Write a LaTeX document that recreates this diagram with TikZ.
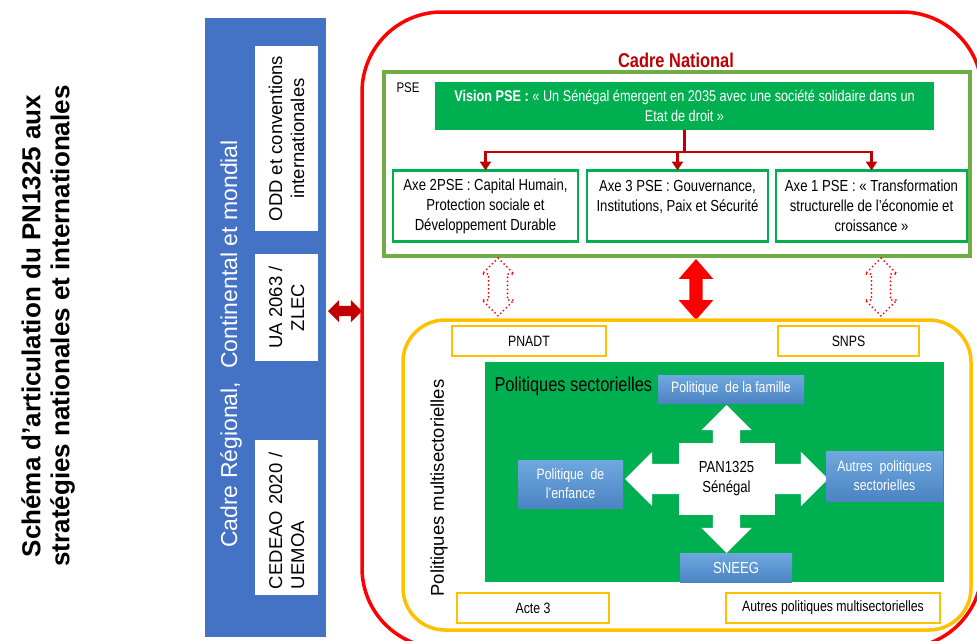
\documentclass[tikz,border=0pt]{standalone}
\usepackage{fontspec}
\setmainfont{Liberation Sans}
\newfontfamily\nar{Liberation Sans}[FakeStretch=0.82]
\usetikzlibrary{shapes.arrows,arrows.meta}
\definecolor{bluebg}{HTML}{4472C4}
\definecolor{darkred}{HTML}{C00000}
\definecolor{greenL}{HTML}{70AD47}
\definecolor{greenD}{HTML}{00B050}
\definecolor{orangeC}{HTML}{FFC000}
\definecolor{blueTop}{HTML}{6FA8DE}
\definecolor{blueBot}{HTML}{4C84C4}
\tikzset{
  whitebox/.style={fill=white, inner sep=0pt, outer sep=0pt, align=center, rotate=90, minimum height=63pt,
    font=\fontsize{18.5}{22}\selectfont},
  axebox/.style={draw=greenD, line width=2.5pt, fill=white, inner sep=0pt, outer sep=0pt, align=center,
    minimum width=#1, minimum height=71pt, font=\nar\fontsize{16}{20}\selectfont},
  obox/.style={draw=orangeC, line width=2pt, fill=white, inner sep=0pt, outer sep=0pt, align=center,
    minimum height=30pt, minimum width=#1, font=\nar\fontsize{15}{17}\selectfont},
  bbox/.style={top color=blueTop, bottom color=blueBot, draw=none, text=white, inner sep=0pt, outer sep=0pt,
    align=center, font=\nar\fontsize{15}{19}\selectfont},
  rarr/.style={draw=darkred, line width=2.5pt, -{Triangle[length=9pt,width=11pt]}},
  dotarrow/.style={double arrow, rotate=90, draw=red, line width=2pt, dash pattern=on 0pt off 4pt, line cap=round,
    minimum height=58pt, inner xsep=0pt, inner ysep=8.5pt, double arrow head extend=6.5pt},
  whitearrow/.style={double arrow, fill=white, inner xsep=0pt, outer sep=0pt, double arrow tip angle=90},
}
\begin{document}
\begin{tikzpicture}[x=1pt,y=-1pt]
\useasboundingbox (0,0) rectangle (977,640);
\clip (0,0) rectangle (977,640);
\fill[white] (0,0) rectangle (977,640);

% title
\node[rotate=90, align=center, font=\bfseries\fontsize{26}{29}\selectfont] (title) at (48,326)
  {Schéma d’articulation du PN1325 aux\\stratégies nationales et internationales};

% regional frame
\node[fill=bluebg, minimum width=121pt, minimum height=619pt, inner sep=0pt] (reg) at (265.5,327.5) {};
\node[rotate=90, text=white, font=\fontsize{23}{28}\selectfont] (regtxt) at (231,344)
  {Cadre Régional,\ \ Continental et mondial};
\node[whitebox, minimum width=185pt] (odd) at (286.5,138.5) {ODD et conventions\\internationales};
\node[whitebox, minimum width=107pt] (ua) at (286.5,307.5) {UA 2063 /\\ZLEC};
\node[whitebox, minimum width=155pt, align=left, text width=143pt, inner xsep=6pt] (cedeao) at (286.5,517.5)
  {CEDEAO 2020 /\\UEMOA};

% link arrow
\node[double arrow, fill=darkred, minimum height=34pt, inner xsep=0pt, inner ysep=5pt,
  double arrow head extend=6pt] (link) at (345,311) {};

% national frame
\draw[red, line width=3.5pt, rounded corners=80pt] (362,12) rectangle (982,648);
\node[text=darkred, font=\nar\bfseries\fontsize{20}{24}\selectfont] (cn) at (676,60) {Cadre National};

% PSE frame
\draw[greenL, line width=3.5pt] (384,72) rectangle (970,256);
\node[anchor=west, font=\nar\fontsize{14}{17}\selectfont] (pse) at (393,88) {PSE};
\node[fill=greenD, text=white, minimum width=499pt, minimum height=48pt, inner sep=0pt, outer sep=0pt,
  align=center, font=\nar\fontsize{15.5}{20}\selectfont] (vision) at (684.5,106)
  {\textbf{Vision PSE :} «~Un Sénégal émergent en 2035 avec une société solidaire dans un\\Etat de droit~»};

\node[axebox=185pt] (axe2) at (485.5,206) {Axe 2PSE : Capital Humain,\\Protection sociale et\\Développement Durable};
\node[axebox=181pt] (axe3) at (677.5,206) {Axe 3 PSE : Gouvernance,\\Institutions, Paix et Sécurité\\\mbox{}};
\node[axebox=191pt] (axe1) at (871.5,206) {Axe 1 PSE : «~Transformation\\structurelle de l’économie et\\croissance~»};

\coordinate (j) at (684.5,152);
\draw[draw=darkred, line width=2.5pt] (vision.south) -- (j);
\draw[rarr] (j) -| (axe2.north);
\draw[rarr] (j) -| (axe3.north);
\draw[rarr] (j) -| (axe1.north);

% arrows between PSE and multisectoral
\node[dotarrow] (d1) at (498,287) {};
\node[dotarrow] (d2) at (881,287) {};
\node[double arrow, rotate=90, fill=red, minimum height=61pt, inner xsep=0pt, inner ysep=6.5pt,
  double arrow head extend=10.5pt, double arrow tip angle=82] (nat) at (696,289.5) {};

% multisectoral frame
\draw[orangeC, line width=3.5pt, rounded corners=42pt] (403,320) rectangle (971,630);
\node[obox=154pt] (pnadt) at (529,341) {PNADT};
\node[obox=141pt] (snps) at (848.5,341) {SNPS};
\node[rotate=90, font=\fontsize{18.5}{22}\selectfont] (multi) at (439,488) {Politiques multisectorielles};
\node[obox=152pt] (acte) at (533,608) {Acte 3};
\node[obox=214pt] (autm) at (833,608) {Autres politiques multisectorielles};

% sectoral
\node[fill=greenD, minimum width=459pt, minimum height=220pt, inner sep=0pt] (sect) at (714.5,472) {};
\node[anchor=west, font=\nar\fontsize{20}{24}\selectfont] (secttxt) at (491,386) {Politiques sectorielles};

\node[whitearrow, minimum height=203pt, inner ysep=15pt, double arrow head extend=12pt] (qh) at (726.5,479) {};
\node[whitearrow, rotate=90, minimum height=148pt, inner ysep=13.5pt, double arrow head extend=11.5pt] (qv) at (726.5,479) {};
\node[fill=white, minimum width=96pt, minimum height=72pt, inner sep=0pt, align=center,
  font=\nar\fontsize{16}{20}\selectfont] (pan) at (726.5,479) {PAN1325\\Sénégal};

\node[bbox, minimum width=146pt, minimum height=28pt] (fam) at (731,389) {Politique\ \ de la famille};
\node[bbox, minimum width=105pt, minimum height=48pt] (enf) at (570.5,484) {Politique\ \ de\\l’enfance};
\node[bbox, minimum width=117pt, minimum height=50pt] (aut) at (884.5,476) {Autres\ \ politiques\\sectorielles};
\node[bbox, minimum width=112pt, minimum height=29pt, font=\nar\fontsize{16}{19}\selectfont] (sneeg) at (736,567.5) {SNEEG};
\end{tikzpicture}
\end{document}
